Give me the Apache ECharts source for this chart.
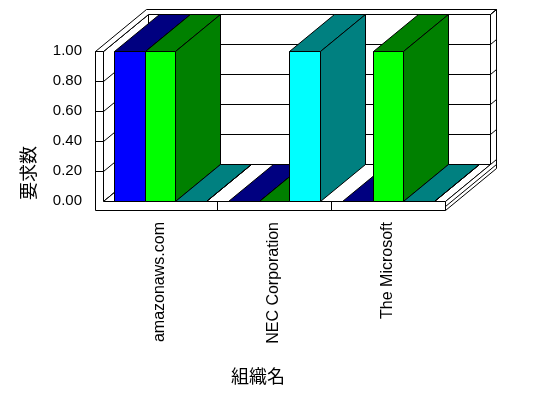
<!DOCTYPE html>
<html><head><meta charset="utf-8">
<script src="https://cdn.jsdelivr.net/npm/echarts@6/dist/echarts.min.js"></script>
<style>html,body{margin:0;padding:0;background:#fff}#c{width:548px;height:398px}</style>
</head><body><div id="c"></div>
<script>
// ---- data ----
const categories = ['amazonaws.com', 'NEC Corporation', 'The Microsoft'];
const seriesA = [1, 0, 0];
const seriesB = [1, 0, 1];
const seriesC = [0, 1, 0];
const yTicks = [0, 0.2, 0.4, 0.6, 0.8, 1.0];
const yAxisTitle = '要求数';
const xAxisTitle = '組織名';

// ---- style constants ----
const DX = 45, DY = -37;      // depth offset to back wall face
const DX2 = 51, DY2 = -42;    // depth offset to back of the wall
const WALL = 8, FLOOR = 9;
const BAR_FRAC = 0.27;
const LINE = {stroke: '#000', lineWidth: 1};
const c = v => Math.round(v) + 0.5;
const P = pts => pts.map(p => [c(p[0]), c(p[1])]);

function poly(pts, fill) {
  return {type: 'polygon', shape: {points: P(pts)}, style: Object.assign({fill: fill || 'none'}, LINE)};
}
function line(a, b) {
  return {type: 'line', shape: {x1: c(a[0]), y1: c(a[1]), x2: c(b[0]), y2: c(b[1])}, style: LINE};
}

function frameRender(params, api) {
  const cs = params.coordSys;
  const L = cs.x, T = cs.y, R = cs.x + cs.width, B = cs.y + cs.height;
  const lw = L - WALL;
  const yAt = v => api.coord([0, v])[1];
  const ch = [];
  // back wall face
  ch.push(poly([[L + DX, T + DY], [R + DX, T + DY], [R + DX, B + DY], [L + DX, B + DY]], '#fff'));
  yTicks.forEach(v => { const y = yAt(v); ch.push(line([L + DX, y + DY], [R + DX, y + DY])); });
  // left wall inner face
  ch.push(poly([[L, T], [L + DX, T + DY], [L + DX, B + DY], [L, B]], '#fff'));
  yTicks.forEach(v => { const y = yAt(v); ch.push(line([L, y], [L + DX, y + DY])); });
  // floor top
  ch.push(poly([[L, B], [R, B], [R + DX, B + DY], [L + DX, B + DY]], '#fff'));
  // wall tops
  ch.push(poly([[lw, T], [L, T], [L + DX, T + DY], [R + DX, T + DY], [R + DX2, T + DY2], [lw + DX2, T + DY2]], '#fff'));
  // right faces
  ch.push(poly([[R, B], [R, B + FLOOR], [R + DX2, B + FLOOR + DY2], [R + DX2, T + DY2], [R + DX, T + DY], [R + DX, B + DY]], '#fff'));
  ch.push(line([R, B + 5], [R + DX2, B + 5 + DY2]));
  yTicks.forEach(v => { const y = yAt(v); ch.push(line([R + DX, y + DY], [R + DX2, y + DY2])); });
  // front faces (left wall + floor)
  ch.push(poly([[lw, T], [L, T], [L, B], [R, B], [R, B + FLOOR], [lw, B + FLOOR]], '#fff'));
  yTicks.forEach(v => { if (v > 0) { const y = yAt(v); ch.push(line([lw, y], [L, y])); } });
  // category boundary ticks on floor front
  for (let i = 1; i < categories.length; i++) {
    const x = L + i * cs.width / categories.length;
    ch.push(line([x, B], [x, B + FLOOR]));
  }
  return {type: 'group', children: ch};
}

function barRender(idx, front, dark) {
  return function (params, api) {
    const cat = api.value(0), val = api.value(1);
    const top = api.coord([cat, val]);
    const base = api.coord([cat, 0]);
    const bw = api.size([1, 0])[0] * BAR_FRAC;
    const x0 = top[0] + (idx - 1.5) * bw, x1 = top[0] + (idx - 0.5) * bw;
    const yt = top[1], yb = base[1];
    return {type: 'group', children: [
      poly([[x0, yt], [x1, yt], [x1 + DX, yt + DY], [x0 + DX, yt + DY]], dark),
      poly([[x1, yt], [x1 + DX, yt + DY], [x1 + DX, yb + DY], [x1, yb]], dark),
      poly([[x0, yt], [x1, yt], [x1, yb], [x0, yb]], front)
    ]};
  };
}

const barSeries = [
  {name: 'A', values: seriesA, front: '#0000FF', dark: '#000080'},
  {name: 'B', values: seriesB, front: '#00FF00', dark: '#008000'},
  {name: 'C', values: seriesC, front: '#00FFFF', dark: '#008080'}
].map((s, i) => ({
  type: 'custom', name: s.name, coordinateSystem: 'cartesian2d', silent: true,
  renderItem: barRender(i, s.front, s.dark),
  data: s.values.map((v, k) => [k, v])
}));

const chart = echarts.init(document.getElementById('c'), null, {renderer: 'canvas'});
chart.setOption({
  animation: false,
  backgroundColor: '#fff',
  grid: {left: 103, top: 51, width: 342, height: 150},
  xAxis: {
    type: 'category', data: categories,
    axisLine: {show: false}, axisTick: {show: false}, splitLine: {show: false},
    axisLabel: {rotate: 90, margin: 21, fontSize: 16, color: '#000', fontFamily: 'Liberation Sans', interval: 0}
  },
  yAxis: {
    type: 'value', min: yTicks[0], max: yTicks[yTicks.length - 1], interval: yTicks[1] - yTicks[0],
    axisLine: {show: false}, axisTick: {show: false}, splitLine: {show: false},
    axisLabel: {margin: 21, fontSize: 15, color: '#000', fontFamily: 'Liberation Sans', formatter: v => v.toFixed(2)}
  },
  graphic: [
    {type: 'text', x: 28, y: 173, rotation: Math.PI / 2,
     style: {text: yAxisTitle, font: '18px "Noto Sans CJK JP"', fill: '#000', align: 'center', verticalAlign: 'middle'}},
    {type: 'text', x: 258, y: 376,
     style: {text: xAxisTitle, font: '18px "Noto Sans CJK JP"', fill: '#000', align: 'center', verticalAlign: 'middle'}}
  ],
  series: [
    {type: 'custom', coordinateSystem: 'cartesian2d', silent: true, z: 1,
     renderItem: frameRender, data: [[0, 0]]}
  ].concat(barSeries.map(s => Object.assign(s, {z: 2})))
});
</script>
</body></html>
